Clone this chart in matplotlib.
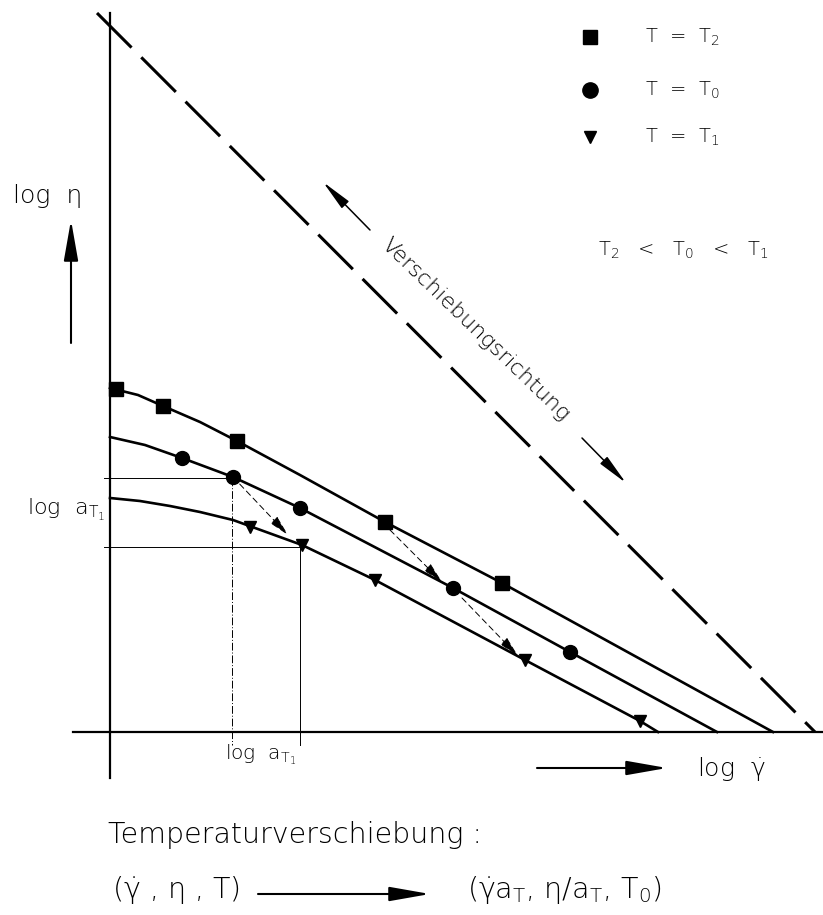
import numpy as np
import matplotlib
matplotlib.use('Agg')
import matplotlib.pyplot as plt

plt.rcParams['font.family'] = ['DejaVu Sans']
plt.rcParams['mathtext.default'] = 'regular'

# chart frame: log(gamma_dot) to the right, log(eta) upwards (arbitrary units)
# flow curve at T = T2 (squares)
t2_x = [0.00, 0.28, 0.53, 0.90, 1.27, 1.90, 2.75, 3.92, 6.63]
t2_y = [3.44, 3.37, 3.26, 3.10, 2.91, 2.57, 2.10, 1.49, 0.00]
t2_mx = [0.06, 0.53, 1.27, 2.75, 3.92]
t2_my = [3.43, 3.26, 2.91, 2.10, 1.49]

# flow curve at T = T0 (circles)
t0_x = [0.00, 0.35, 0.72, 1.23, 1.90, 3.43, 4.60, 6.07]
t0_y = [2.95, 2.87, 2.74, 2.55, 2.24, 1.44, 0.80, 0.00]
t0_mx = [0.72, 1.23, 1.90, 3.43, 4.60]
t0_my = [2.74, 2.55, 2.24, 1.44, 0.80]

# flow curve at T = T1 (triangles)
t1_x = [0.00, 0.30, 0.60, 0.90, 1.23, 1.92, 2.65, 4.15, 5.30, 5.48]
t1_y = [2.34, 2.31, 2.26, 2.20, 2.12, 1.87, 1.52, 0.72, 0.11, 0.00]
t1_mx = [1.40, 1.92, 2.65, 4.15, 5.30]
t1_my = [2.05, 1.87, 1.52, 0.72, 0.11]

# master line (dashed)
master_x = [-0.13, 7.05]
master_y = [7.19, 0.00]

# shift factor construction
shift_h = [2.54, 1.85]           # log eta levels
shift_h_end = [1.23, 1.92]
shift_v = [1.22, 1.90]           # log gamma positions
shift_v_top = [2.54, 1.85]

# shift arrows (tail -> head)
shift_arrows = [((1.23, 2.55), (1.78, 1.97)),
                ((2.80, 2.02), (3.32, 1.50)),
                ((3.52, 1.34), (4.08, 0.76))]

fig = plt.figure(figsize=(8.23, 9.15), dpi=100)
ax = fig.add_axes([0, 0, 1, 1])
ax.set_xlim(-1.10, 7.13)
ax.set_ylim(-1.83, 7.32)
ax.axis('off')

fw = 'light'

# axes
ax.plot([0, 0], [-0.46, 7.19], color='k', lw=1.6)
ax.plot([-0.37, 7.13], [0, 0], color='k', lw=1.6)

# master line
ax.plot(master_x, master_y, color='k', lw=2.2, dashes=(16, 4.5))

# curves
ax.plot(t2_x, t2_y, color='k', lw=1.9)
ax.plot(t0_x, t0_y, color='k', lw=1.9)
ax.plot(t1_x, t1_y, color='k', lw=1.9)
ax.plot(t2_mx, t2_my, 's', color='k', ms=10, ls='none')
ax.plot(t0_mx, t0_my, 'o', color='k', ms=10, ls='none')
ax.plot(t1_mx, t1_my, 'v', color='k', ms=9, ls='none')

# construction lines for log a_T1
for yv, xe in zip(shift_h, shift_h_end):
    ax.plot([-0.06, xe], [yv, yv], color='k', lw=0.7)
ax.plot([shift_v[0], shift_v[0]], [shift_v_top[0], -0.13], color='k', lw=0.7,
        dashes=(8, 2, 1, 2))
ax.plot([shift_v[1], shift_v[1]], [shift_v_top[1], -0.13], color='k', lw=0.7)

for tail, head in shift_arrows:
    ax.annotate('', xy=head, xytext=tail,
                arrowprops=dict(arrowstyle='-|>,head_length=0.8,head_width=0.18',
                                color='k', lw=0.7, linestyle=(0, (6, 4)),
                                shrinkA=0, shrinkB=0, mutation_scale=16))

def arrow(tail, head, lw=1.5, hl=1.25, hw=0.22):
    ax.annotate('', xy=head, xytext=tail,
                arrowprops=dict(arrowstyle=f'-|>,head_length={hl},head_width={hw}',
                                color='k', lw=lw, shrinkA=0, shrinkB=0,
                                mutation_scale=20))

# axis direction arrows
arrow((-0.39, 3.89), (-0.39, 5.12))
arrow((4.27, -0.36), (5.57, -0.36))
arrow((1.48, -1.62), (3.20, -1.62))
# Verschiebungsrichtung arrows
arrow((2.60, 5.02), (2.13, 5.50), lw=1.1, hl=0.95, hw=0.15)
arrow((4.72, 2.94), (5.16, 2.49), lw=1.1, hl=0.95, hw=0.15)

# labels
ax.text(-0.97, 5.36, 'log  η', fontsize=18, fontweight=fw, va='center', ha='left')
ax.text(5.87, -0.37, r'log  $\dot{\gamma}$', fontsize=18, fontweight=fw,
        va='center', ha='left')
ax.text(1.15, -0.23, r'log  a$_{T_1}$', fontsize=14.5, fontweight=fw,
        va='center', ha='left')
ax.text(-0.83, 2.22, r'log  a$_{T_1}$', fontsize=16, fontweight=fw,
        va='center', ha='left')
ax.text(3.65, 4.02, 'Verschiebungsrichtung', fontsize=16, fontweight=fw,
        rotation=-44, rotation_mode='anchor', va='center', ha='center')

# legend
leg_y = [6.95, 6.42, 5.95]
leg_mk = ['s', 'o', 'v']
leg_ms = [10, 11, 9]
leg_txt = [r'T  =  T$_2$', r'T  =  T$_0$', r'T  =  T$_1$']
for yv, mk, ms, tx in zip(leg_y, leg_mk, leg_ms, leg_txt):
    ax.plot([4.80], [yv], mk, color='k', ms=ms)
    ax.text(5.35, yv, tx, fontsize=14, fontweight=fw, va='center', ha='left')
ax.text(4.88, 4.82, r'T$_2$   <   T$_0$   <   T$_1$', fontsize=14, fontweight=fw,
        va='center', ha='left')

# shift rule
ax.text(-0.02, -1.03, 'Temperaturverschiebung :', fontsize=20.5, fontweight=fw,
        va='center', ha='left')
ax.text(0.02, -1.58, r'($\dot{\gamma}$ , $\eta$ , T)', fontsize=20.5, fontweight=fw,
        va='center', ha='left')
ax.text(3.57, -1.58, r'($\dot{\gamma}$a$_T$, $\eta$/a$_T$, T$_0$)', fontsize=20.5,
        fontweight=fw, va='center', ha='left')

plt.savefig('out.png', dpi=100)
plt.close()
